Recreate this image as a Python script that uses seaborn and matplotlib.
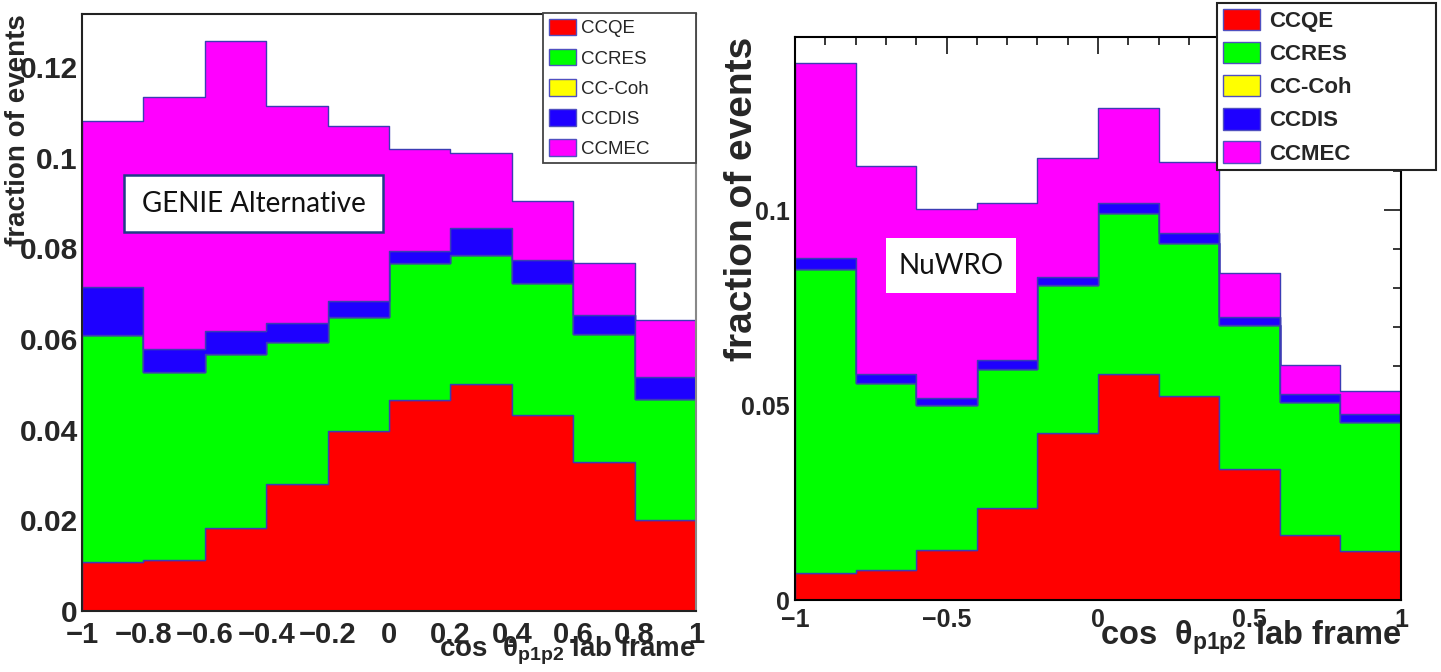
import numpy as np
import pandas as pd
import matplotlib
matplotlib.use("Agg")
import matplotlib.pyplot as plt
import seaborn as sns
from matplotlib.patches import Patch, Rectangle
from matplotlib.ticker import MultipleLocator, FuncFormatter

# ---------------- data ----------------
bin_edges = [-1.0, -0.8, -0.6, -0.4, -0.2, 0.0, 0.2, 0.4, 0.6, 0.8, 1.0]
categories = ["CCQE", "CCRES", "CC-Coh", "CCDIS", "CCMEC"]

# GENIE Alternative (per-component fraction of events in each bin)
genie_ccqe = [0.0108, 0.0112, 0.0183, 0.0281, 0.0397, 0.0466, 0.0500, 0.0432, 0.0329, 0.0200]
genie_ccres = [0.0500, 0.0415, 0.0383, 0.0312, 0.0252, 0.0302, 0.0285, 0.0291, 0.0281, 0.0268]
genie_cccoh = [0.0, 0.0, 0.0, 0.0, 0.0, 0.0, 0.0, 0.0, 0.0, 0.0]
genie_ccdis = [0.0107, 0.0051, 0.0051, 0.0042, 0.0035, 0.0027, 0.0061, 0.0051, 0.0044, 0.0048]
genie_ccmec = [0.0366, 0.0556, 0.0640, 0.0478, 0.0387, 0.0225, 0.0164, 0.0130, 0.0114, 0.0127]

# NuWRO
nuwro_ccqe = [0.0069, 0.0077, 0.0128, 0.0236, 0.0428, 0.0579, 0.0523, 0.0337, 0.0166, 0.0126]
nuwro_ccres = [0.0779, 0.0479, 0.0371, 0.0357, 0.0379, 0.0414, 0.0393, 0.0368, 0.0342, 0.0330]
nuwro_cccoh = [0.0, 0.0, 0.0, 0.0, 0.0, 0.0, 0.0, 0.0, 0.0, 0.0]
nuwro_ccdis = [0.0030, 0.0024, 0.0020, 0.0023, 0.0021, 0.0024, 0.0025, 0.0022, 0.0021, 0.0021]
nuwro_ccmec = [0.0500, 0.0534, 0.0484, 0.0402, 0.0306, 0.0245, 0.0182, 0.0112, 0.0075, 0.0059]

colors = {"CCQE": "#ff0000", "CCRES": "#00ff00", "CC-Coh": "#ffff00",
          "CCDIS": "#1e00ff", "CCMEC": "#ff00ff"}
edge_col = "#3c3cb4"

def make_df(comps):
    centers = [(a + b) / 2 for a, b in zip(bin_edges[:-1], bin_edges[1:])]
    rows = []
    for cat, vals in zip(categories, comps):
        for c, v in zip(centers, vals):
            rows.append({"x": c, "w": v, "comp": cat})
    return pd.DataFrame(rows)

df_genie = make_df([genie_ccqe, genie_ccres, genie_cccoh, genie_ccdis, genie_ccmec])
df_nuwro = make_df([nuwro_ccqe, nuwro_ccres, nuwro_cccoh, nuwro_ccdis, nuwro_ccmec])

# ---------------- style ----------------
sns.set_style("white")
plt.rcParams["font.family"] = ["Liberation Sans", "DejaVu Sans"]
plt.rcParams["mathtext.fontset"] = "custom"
plt.rcParams["mathtext.rm"] = "Liberation Sans:bold"
plt.rcParams["mathtext.bf"] = "Liberation Sans:bold"
plt.rcParams["mathtext.it"] = "Liberation Sans:bold"

W, H = 1441, 672
fig = plt.figure(figsize=(W / 100, H / 100), dpi=100)
fig.patch.set_facecolor("white")

def fig_rect(x0, y0, x1, y1):
    return [x0 / W, 1 - y1 / H, (x1 - x0) / W, (y1 - y0) / H]

axL = fig.add_axes(fig_rect(82, 14, 696, 611))
axR = fig.add_axes(fig_rect(795, 37, 1401, 600))

hue_order = categories[::-1]  # last level ends up at the bottom of the stack

def fmt(v, pos):
    v = round(v, 6)
    if abs(v) < 1e-9:
        return "0"
    return f"{v:g}".replace("-", "\u2212")

for ax, df in [(axL, df_genie), (axR, df_nuwro)]:
    sns.histplot(data=df, x="x", weights="w", hue="comp", hue_order=hue_order,
                 bins=bin_edges, multiple="stack", element="step", fill=True,
                 palette=colors, alpha=1, edgecolor=edge_col, linewidth=1.0,
                 legend=False, ax=ax)
    ax.set_xlim(-1, 1)
    ax.set_facecolor("white")
    ax.xaxis.set_major_formatter(FuncFormatter(fmt))
    ax.yaxis.set_major_formatter(FuncFormatter(fmt))

# left panel
axL.set_ylim(0, 0.1317)
axL.xaxis.set_major_locator(MultipleLocator(0.2))
axL.xaxis.set_minor_locator(MultipleLocator(0.05))
axL.yaxis.set_major_locator(MultipleLocator(0.02))
axL.yaxis.set_minor_locator(MultipleLocator(0.005))
axL.tick_params(axis="both", which="both", direction="in", width=1.1, color="black")
axL.tick_params(axis="both", which="major", length=12.5)
axL.tick_params(axis="both", which="minor", length=6)
axL.tick_params(axis="x", which="major", labelsize=21, pad=7)
axL.tick_params(axis="y", which="major", labelsize=21.5, pad=3)
axL.tick_params(top=False, right=False)
for lab in axL.get_xticklabels() + axL.get_yticklabels():
    lab.set_fontweight("bold")
for s in ["left", "top", "bottom"]:
    axL.spines[s].set_color("#222222")
    axL.spines[s].set_linewidth(1.5)
axL.spines["right"].set_color("#888888")
axL.spines["right"].set_linewidth(1.5)
axL.set_ylabel("fraction of events", fontsize=20, fontweight="bold", loc="top")
axL.yaxis.set_label_coords(-0.083, 1.0)
axL.set_xlabel(r"cos  θ$_{\mathbf{p1p2}}$ lab frame", fontsize=20, fontweight="bold", loc="right")
axL.xaxis.set_label_coords(1.0, -0.04)

# right panel
axR.set_ylim(0, 0.1444)
axR.xaxis.set_major_locator(MultipleLocator(0.5))
axR.xaxis.set_minor_locator(MultipleLocator(0.1))
axR.yaxis.set_major_locator(MultipleLocator(0.05))
axR.yaxis.set_minor_locator(MultipleLocator(0.01))
axR.tick_params(axis="both", which="both", direction="in", width=1.1, color="black",
                top=True, right=True)
axR.tick_params(axis="both", which="major", length=12.5)
axR.tick_params(axis="both", which="minor", length=6)
axR.tick_params(axis="x", which="major", labelsize=18, pad=6)
axR.tick_params(axis="y", which="major", labelsize=18, pad=4)
for lab in axR.get_xticklabels() + axR.get_yticklabels():
    lab.set_fontweight("bold")
for s in axR.spines.values():
    s.set_color("black")
    s.set_linewidth(1.5)
axR.set_ylabel("fraction of events", fontsize=28, fontweight="bold", loc="top")
axR.yaxis.set_label_coords(-0.058, 1.0)
axR.set_xlabel(r"cos  θ$_{\mathbf{p1p2}}$ lab frame", fontsize=23.5, fontweight="bold", loc="right")
axR.xaxis.set_label_coords(1.0, -0.033)

# legends
handles = [Patch(facecolor=colors[c], edgecolor="#5050c0", linewidth=1.0, label=c) for c in categories]

legL = axL.legend(handles=handles, loc="upper left",
                  bbox_to_anchor=(543 / W, 1 - 13 / H, (696 - 543) / W, 0.0),
                  bbox_transform=fig.transFigure, mode="expand",
                  prop={"family": "Liberation Sans", "size": 13.5},
                  handlelength=1.45, handleheight=1.0, handletextpad=0.3,
                  labelspacing=0.6, borderpad=0.3, borderaxespad=0,
                  fancybox=False, framealpha=1, edgecolor="#444444")
legL.get_frame().set_linewidth(1.3)

legR = axR.legend(handles=handles, loc="upper left",
                  bbox_to_anchor=(1217 / W, 1 - 3 / H, (1436 - 1217) / W, 0.0),
                  bbox_transform=fig.transFigure, mode="expand",
                  prop={"family": "Liberation Sans", "size": 16, "weight": "bold"},
                  handlelength=1.7, handleheight=1.1, handletextpad=0.4,
                  labelspacing=0.45, borderpad=0.25, borderaxespad=0,
                  fancybox=False, framealpha=1, edgecolor="#222222")
legR.get_frame().set_linewidth(1.5)
legR.set_zorder(10)
legR.set_clip_on(False)

# annotation boxes
fig.add_artist(Rectangle((124 / W, 1 - 232 / H), 259 / W, 57 / H, transform=fig.transFigure,
                         facecolor="white", edgecolor="#1f3c88", linewidth=1.8, zorder=5))
fig.text(253.5 / W, 1 - 203.5 / H, "GENIE Alternative", ha="center", va="center",
         fontsize=20, family=["Lato", "DejaVu Sans"], color="#111111", zorder=6)
fig.add_artist(Rectangle((886 / W, 1 - 293 / H), 130 / W, 55 / H, transform=fig.transFigure,
                         facecolor="white", edgecolor="none", zorder=5))
fig.text(951 / W, 1 - 266 / H, "NuWRO", ha="center", va="center",
         fontsize=20, family=["Lato", "DejaVu Sans"], color="#111111", zorder=6)

fig.savefig("out.png", dpi=100, facecolor="white")
